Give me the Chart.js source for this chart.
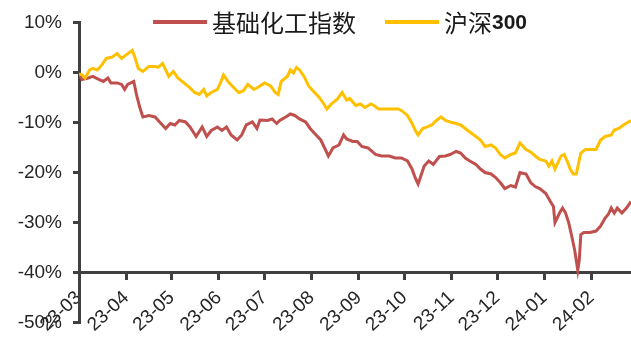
<!DOCTYPE html>
<html>
<head>
<meta charset="utf-8">
<script src="https://cdn.jsdelivr.net/npm/chart.js@4/dist/chart.umd.min.js"></script>
<style>
html,body{margin:0;padding:0;background:#fff;}
#wrap{width:631px;height:345px;position:relative;}
</style>
</head>
<body>
<div id="wrap"><canvas id="c"></canvas></div>
<script>
// Month tick labels and their positions (days since 2023-03-01)
const monthLabels = ['23-03','23-04','23-05','23-06','23-07','23-08','23-09','23-10','23-11','23-12','24-01','24-02'];
const monthStartDays = [0,31,61,92,122,153,184,214,245,275,306,337];
const seriesNames = ['基础化工指数','沪深300'];

// 基础化工指数 cumulative change (%), day offset since 2023-03-01
const chemDays = [0,2,6,9,13,16,19,21,25,28,
  30,32,36,38,40,42,46,50,53,57,
  60,63,66,70,73,77,81,84,87,91,
  94,97,100,104,107,110,114,117,119,124,
  127,130,132,136,139,142,145,149,152,155,
  159,162,164,167,171,174,176,180,183,186,
  190,195,199,204,208,212,216,219,221,223,
  227,230,233,237,241,244,248,251,254,257,
  261,264,267,271,274,277,280,284,287,290,
  294,297,300,303,307,310,312,313,316,318,
  320,322,324,326,328,329,330,332,336,340,
  343,346,348,350,352,354,357,360,363];
const chemValues = [-0.3,-1.4,-1.1,-0.8,-1.4,-1.8,-1.1,-2.1,-2.1,-2.4,
  -3.4,-2.4,-1.8,-4.7,-7.0,-8.9,-8.6,-8.9,-9.9,-11.2,
  -10.2,-10.5,-9.6,-9.9,-10.9,-12.8,-10.9,-12.8,-11.6,-10.9,
  -11.6,-10.9,-12.5,-13.5,-12.5,-10.5,-9.9,-11.2,-9.5,-9.6,
  -9.3,-10.2,-9.6,-8.9,-8.3,-8.6,-9.3,-9.9,-11.2,-12.2,
  -13.5,-15.4,-16.7,-15.1,-14.5,-12.5,-13.3,-13.8,-13.8,-14.8,
  -15.1,-16.4,-16.7,-16.7,-17.1,-17.1,-17.7,-19.3,-21.0,-22.3,
  -18.7,-17.7,-18.4,-16.8,-16.7,-16.4,-15.8,-16.1,-17.1,-17.7,
  -18.4,-19.3,-20.0,-20.3,-21.0,-22.0,-23.2,-22.6,-22.9,-20.0,
  -20.3,-22.0,-22.8,-23.2,-24.2,-25.8,-26.8,-30.0,-28.1,-27.1,
  -28.1,-30.0,-32.7,-35.6,-39.5,-37.5,-32.4,-32.0,-32.0,-31.7,
  -30.7,-29.1,-28.4,-27.1,-28.1,-27.1,-28.1,-27.1,-25.8];

// 沪深300 cumulative change (%), day offset since 2023-03-01
const hs300Days = [0,2,4,7,9,12,15,18,22,25,
  28,31,35,37,39,42,46,50,52,55,
  57,59,62,65,69,73,76,79,82,84,
  87,91,93,95,98,102,105,108,111,115,
  118,122,126,129,131,133,137,139,141,143,
  145,148,151,154,158,161,163,166,170,173,
  176,178,182,185,188,192,194,197,204,210,
  212,216,219,221,223,226,229,232,235,238,
  241,244,248,251,254,257,261,264,267,271,
  274,277,280,284,287,290,294,297,300,303,
  307,309,311,313,317,319,321,323,325,327,
  330,333,336,340,343,346,350,352,355,358,
  363];
const hs300Values = [-0.3,-0.5,-1.1,0.5,0.8,0.5,1.5,2.8,3.1,3.8,
  2.8,3.5,4.4,2.8,0.8,0.2,1.2,1.2,1.0,1.8,
  0.5,-0.8,0.2,-1.1,-2.1,-3.1,-4.0,-4.4,-3.4,-4.7,
  -4.0,-3.4,-2.1,-0.5,-1.8,-3.1,-4.0,-3.7,-2.4,-3.4,
  -2.9,-2.1,-2.7,-4.0,-4.4,-1.8,-0.8,0.5,-0.1,1.0,
  0.5,-0.8,-2.7,-3.7,-5.0,-6.3,-7.3,-6.3,-5.3,-4.0,
  -5.5,-5.2,-6.6,-6.3,-7.0,-6.3,-6.6,-7.3,-7.3,-7.3,
  -7.6,-8.6,-10.2,-11.5,-12.5,-11.2,-10.9,-10.5,-9.6,-8.9,
  -9.6,-9.9,-10.2,-10.5,-11.2,-11.9,-12.8,-13.5,-14.8,-14.5,
  -15.1,-16.4,-17.1,-16.4,-16.1,-14.1,-15.4,-15.9,-16.7,-17.4,
  -17.7,-18.7,-17.7,-19.3,-16.7,-16.4,-17.7,-19.3,-20.3,-20.3,
  -16.1,-15.4,-15.4,-15.4,-13.5,-12.8,-12.5,-11.5,-11.2,-10.5,
  -9.6];

const yMin = -50, yMax = 10, yStep = 10, xAxisAt = -40;
const xEnd = 363;

const toPoints = (xs, ys) => xs.map((x, i) => ({x: x, y: ys[i]}));

const AXIS = '#404040';
const TEXT = '#262626';
const FONT = '"Liberation Sans", Arial, sans-serif';

const legendPlugin = {
  id: 'topLegend',
  afterDraw(chart) {
    const ctx = chart.ctx;
    ctx.save();
    ctx.textBaseline = 'middle';
    ctx.textAlign = 'left';
    let x = 153;
    const y = 22;
    chart.data.datasets.forEach(ds => {
      ctx.strokeStyle = ds.borderColor;
      ctx.lineWidth = 4;
      ctx.beginPath();
      ctx.moveTo(x, y);
      ctx.lineTo(x + 54, y);
      ctx.stroke();
      x += 59;
      ctx.fillStyle = '#1a1a1a';
      const runs = ds.label.match(/[\x00-\x7F]+|[^\x00-\x7F]+/g) || [];
      runs.forEach(r => {
        const ascii = /^[\x00-\x7F]+$/.test(r);
        ctx.font = ascii ? 'bold 21px ' + FONT : '24px "Noto Sans CJK SC"';
        ctx.fillText(r, x, y + (ascii ? 1 : 1));
        x += ctx.measureText(r).width;
      });
      x += 29;
    });
    ctx.restore();
  }
};

new Chart(document.getElementById('c'), {
  type: 'line',
  data: {
    datasets: [
      {label: seriesNames[0], data: toPoints(chemDays, chemValues), borderColor: '#C0504D', backgroundColor: '#C0504D', borderWidth: 3, pointRadius: 0, tension: 0, order: 1},
      {label: seriesNames[1], data: toPoints(hs300Days, hs300Values), borderColor: '#FFC000', backgroundColor: '#FFC000', borderWidth: 3, pointRadius: 0, tension: 0, order: 0}
    ]
  },
  options: {
    responsive: true,
    maintainAspectRatio: false,
    animation: false,
    layout: {padding: {top: 20, left: 0, right: 0, bottom: 19}, autoPadding: false},
    plugins: {legend: {display: false}, tooltip: {enabled: false}},
    scales: {
      x: {
        type: 'linear',
        min: 0,
        max: xEnd,
        position: {y: xAxisAt},
        afterBuildTicks: s => { s.ticks = monthStartDays.map(v => ({value: v})); },
        ticks: {
          autoSkip: false,
          minRotation: 43,
          maxRotation: 43,
          padding: 8,
          color: TEXT,
          font: {family: FONT, size: 19},
          callback: (v, i) => monthLabels[i]
        },
        grid: {drawOnChartArea: false, drawTicks: true, tickLength: 6, color: AXIS, lineWidth: 3},
        border: {display: true, color: AXIS, width: 3}
      },
      y: {
        min: yMin,
        max: yMax,
        afterFit: s => { s.width = 79; },
        ticks: {
          stepSize: yStep,
          padding: 11,
          color: TEXT,
          font: {family: FONT, size: 19},
          callback: v => v + '%'
        },
        grid: {drawOnChartArea: false, drawTicks: true, tickLength: 6, color: AXIS, lineWidth: 3},
        border: {display: true, color: AXIS, width: 3}
      }
    }
  },
  plugins: [legendPlugin]
});
</script>
</body>
</html>
